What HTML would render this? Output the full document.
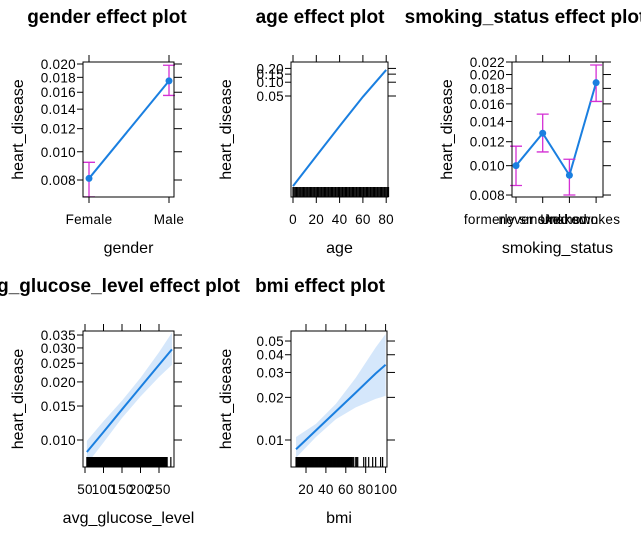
<!DOCTYPE html>
<html><head><meta charset="utf-8"><style>
html,body{margin:0;padding:0;background:#fff;width:641px;height:537px;overflow:hidden}
svg text{font-family:"Liberation Sans",Arial,sans-serif;fill:#000}
.t{font-weight:bold;font-size:19px}
.tk{font-size:13.5px;letter-spacing:0.3px}
.ax{font-size:16px}
</style></head><body>
<svg id="c" width="641" height="537" xmlns="http://www.w3.org/2000/svg"></svg>
<script>
// ---- data ----
const genderCats = ["Female","Male"];
const genderFit = [0.0081, 0.0175];
const genderLo = [0.0070, 0.0156];
const genderHi = [0.0092, 0.0198];
const genderTicks = [0.008,0.010,0.012,0.014,0.016,0.018,0.020];

const ageX = [0,20,40,60,80];
const ageFit = [0.00054,0.00245,0.0110,0.048,0.185];
const ageTicksY = [0.05,0.10,0.15,0.20];
const ageTicksX = [0,20,40,60,80];

const smokeCats = ["formerly smoked","never smoked","Unknown","smokes"];
const smokeFit = [0.0100,0.0128,0.0093,0.0188];
const smokeLo = [0.0086,0.0111,0.0080,0.0163];
const smokeHi = [0.0116,0.0148,0.0105,0.0215];
const smokeTicks = [0.008,0.010,0.012,0.014,0.016,0.018,0.020,0.022];

const glucX = [55,100,150,200,250,285];
const glucFit = [0.00867,0.0110,0.0144,0.0188,0.0245,0.0295];
const glucLo = [0.0075,0.0097,0.0130,0.0168,0.0212,0.0245];
const glucHi = [0.0099,0.0125,0.0160,0.0210,0.0285,0.036];
const glucTicksY = [0.010,0.015,0.020,0.025,0.030,0.035];
const glucTicksX = [50,100,150,200,250];

const bmiX = [10,30,50,70,90,100];
const bmiFit = [0.0086,0.0117,0.0159,0.0216,0.0295,0.0340];
const bmiLo = [0.0075,0.0105,0.0140,0.0170,0.0195,0.0205];
const bmiHi = [0.0105,0.0130,0.0180,0.0275,0.045,0.056];
const bmiTicksY = [0.01,0.02,0.03,0.04,0.05];
const bmiTicksX = [20,40,60,80,100];
const bmiRugExtra = [67,68,70,71,72,78,80,83,87,90,95,97];

const NS="http://www.w3.org/2000/svg";
const svg=document.getElementById('c');
function el(tag,attrs,parent){const e=document.createElementNS(NS,tag);for(const k in attrs)e.setAttribute(k,attrs[k]);(parent||svg).appendChild(e);return e;}
function txt(s,attrs,parent){const e=el('text',attrs,parent);e.textContent=s;return e;}
function logScale(p0,y0,k){return p=>y0-k*(Math.log(p)-Math.log(p0));}
function linScale(v0,x0,k){return v=>x0+k*(v-v0);}
const BLUE="#1a7fe0", MAG="#d42fd4", BAND="#d5e7fb";

function frame(name,x0,x1,y0,y1,title,titleX,titleAnchor,xTitle,yFmt,yTicks,ys,xTicks,xs,xLabels){
  const g=el('g',{});  
  const t=txt(title,{x:titleX,y:y0-39,'text-anchor':titleAnchor,class:'t'},g);
   
  yTicks.forEach(v=>{const y=ys(v);
    el('line',{x1:x0-6,x2:x0,y1:y,y2:y,stroke:'#000'},g);
    el('line',{x1:x1,x2:x1+8,y1:y,y2:y,stroke:'#000'},g);
    const l=txt(yFmt(v),{x:x0-7,y:y+5,'text-anchor':'end',class:'tk'},g);
     
  });
  xTicks.forEach((v,i)=>{const x=xs(v);
    el('line',{x1:x,x2:x,y1:y1,y2:y1+6,stroke:'#000'},g);
    el('line',{x1:x,x2:x,y1:y0-7,y2:y0,stroke:'#000'},g);
    const l=txt(xLabels[i],{x:x,y:y1+27,'text-anchor':'middle',class:'tk'},g);
     
  });
  const xt=txt(xTitle,{x:(x0+x1)/2,y:y1+56,'text-anchor':'middle',class:'ax'},g);
   
  const yc=(y0+y1)/2, yx=x0-60;
  const yt=txt('heart_disease',{x:yx,y:yc,'text-anchor':'middle',class:'ax',transform:`rotate(-90 ${yx} ${yc})`},g);
   
  return g;
}
function box(g,x0,x1,y0,y1){const r=el('rect',{x:x0,y:y0,width:x1-x0,height:y1-y0,fill:'none',stroke:'#000'},g);
   }
function cat(g,xs,ys,fit,lo,hi){
  const pts=fit.map((v,i)=>xs(i)+','+ys(v)).join(' ');
  const pl=el('polyline',{points:pts,fill:'none',stroke:BLUE,'stroke-width':2},g);
   
  fit.forEach((v,i)=>{const x=xs(i);
    const eb=el('path',{d:`M${x-6},${ys(hi[i])}H${x+6}M${x},${ys(hi[i])}V${ys(lo[i])}M${x-6},${ys(lo[i])}H${x+6}`,stroke:MAG,'stroke-width':1.3,fill:'none'},g);
     
    const c=el('circle',{cx:x,cy:ys(v),r:3.5,fill:BLUE},g);
     
  });
}
function cont(g,xs,ys,X,fit,lo,hi){
  if(lo){const d='M'+X.map((v,i)=>xs(v)+','+ys(hi[i])).join('L')+'L'+X.slice().reverse().map((v,j)=>{const i=X.length-1-j;return xs(v)+','+ys(lo[i]);}).join('L')+'Z';
    const b=el('path',{d:d,fill:BAND,stroke:'none'},g);
     }
  const pl=el('polyline',{points:X.map((v,i)=>xs(v)+','+ys(fit[i])).join(' '),fill:'none',stroke:BLUE,'stroke-width':2},g);
   
}
function rug(g,xs,vals,y0,y1){
  const r=el('g',{},g);  
  vals.forEach(v=>el('line',{x1:xs(v),x2:xs(v),y1:y0,y2:y1,stroke:'#000','stroke-width':1.2},r));
}
const f3=v=>v.toFixed(3), f2=v=>v.toFixed(2);

// Panel 1 gender
{const ys=logScale(0.020,64,126.6), xs=i=>89+i*80;
 const g=frame('gender',83,174,62,197,'gender effect plot',107,'middle','gender',f3,genderTicks,ys,[0,1],xs,genderCats);
 cat(g,xs,ys,genderFit,genderLo,genderHi); box(g,83,174,62,197);}
// Panel 2 age
{const ys=logScale(0.05,96,19.9), xs=linScale(0,293,1.165);
 const g=frame('age',291,388,62,197,'age effect plot',320,'middle','age',f2,ageTicksY,ys,ageTicksX,xs,ageTicksX.map(String));
 const ageRug=[];for(let a=0;a<=82;a++)ageRug.push(a);
 rug(g,xs,ageRug,187,197);
 cont(g,xs,ys,ageX,ageFit); box(g,291,388,62,197);}
// Panel 3 smoking
{const ys=logScale(0.022,62,131.5), xs=i=>516+i*26.7;
 const g=frame('smoking',512,603,62,197,'smoking_status effect plot',525,'middle','smoking_status',f3,smokeTicks,ys,[0,1,2,3],xs,smokeCats);
 cat(g,xs,ys,smokeFit,smokeLo,smokeHi); box(g,512,603,62,197);}
// Panel 4 glucose
{const ys=logScale(0.010,440,83.8), xs=linScale(50,85,0.37);
 const g=frame('glucose',83,174,331,467,'avg_glucose_level effect plot',240,'end','avg_glucose_level',f3,glucTicksY,ys,glucTicksX,xs,glucTicksX.map(String));
 cont(g,xs,ys,glucX,glucFit,glucLo,glucHi);
 const gr=[];for(let v=55;v<=272;v+=1)gr.push(v);gr.push(282);
 rug(g,xs,gr,457,467); box(g,83,174,331,467);}
// Panel 5 bmi
{const ys=logScale(0.01,440,61.5), xs=linScale(20,306,0.995);
 const g=frame('bmi',291,387,331,467,'bmi effect plot',320,'middle','bmi',f2,bmiTicksY,ys,bmiTicksX,xs,bmiTicksX.map(String));
 cont(g,xs,ys,bmiX,bmiFit,bmiLo,bmiHi);
 const br=[];for(let v=10;v<=66;v+=0.8)br.push(v);bmiRugExtra.forEach(v=>br.push(v));
 rug(g,xs,br,457,467); box(g,291,387,331,467);}
</script>
</body></html>
